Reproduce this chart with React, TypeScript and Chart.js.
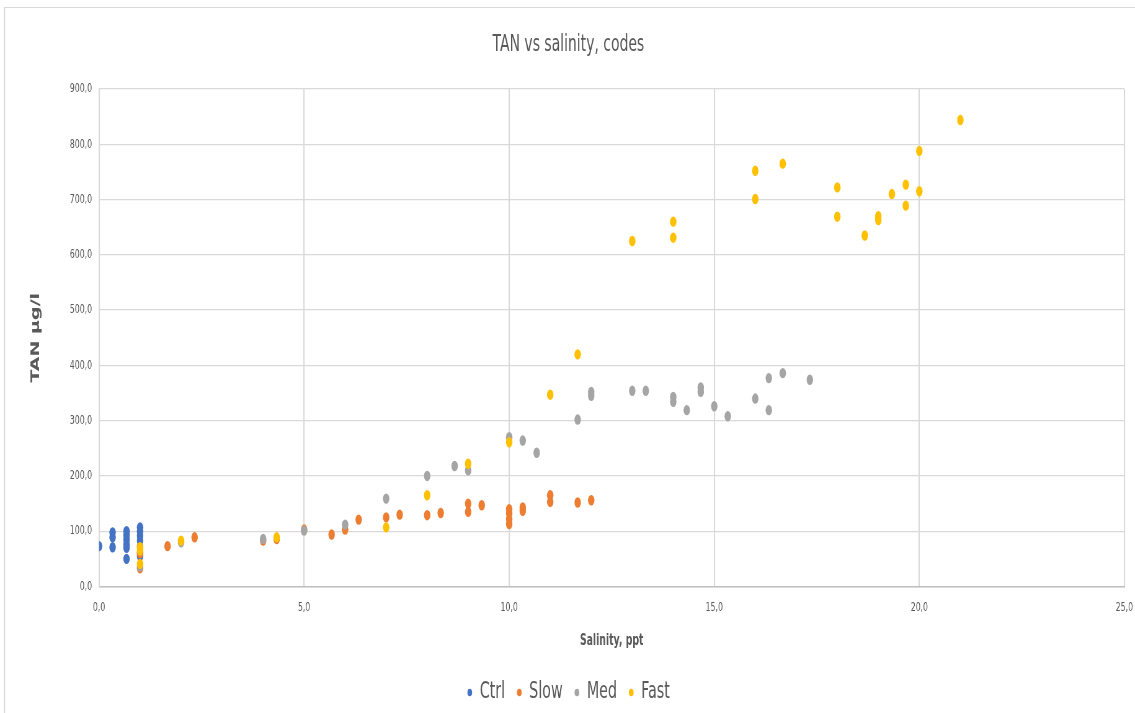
import React, { useEffect, useRef } from 'react';
import { Chart, registerables } from 'chart.js';

Chart.register(...registerables);

// The reference is a horizontally squeezed picture: the chart is drawn on a wider
// canvas and shown narrower, which squeezes text and round markers like the original.
const SQUEEZE = 0.62;
const CANVAS_W = 1843;
const CANVAS_H = 714;
const FONT = "'DejaVu Sans', sans-serif";
const TEXT_COLOR = '#595959';

const chartTitle = 'TAN vs salinity, codes';
const xTitle = 'Salinity, ppt';
const yTitle = 'TAN µg/l';

const seriesNames = ['Ctrl', 'Slow', 'Med', 'Fast'];
const seriesColors = ['#4472C4', '#ED7D31', '#A5A5A5', '#FFC000'];

const ctrlSalinity = [0, 0.33, 0.33, 0.33, 0.67, 0.67, 0.67, 0.67, 0.67, 0.67, 1, 1, 1, 1, 1, 1, 1];
const ctrlTAN = [73, 98, 89, 71, 100, 93, 85, 76, 70, 50, 107, 100, 92, 83, 72, 62, 55];

const slowSalinity = [1, 1, 1.67, 2.33, 4, 4.33, 5, 5.67, 6, 6.33, 7, 7.33, 8, 8.33, 9, 9, 9.33, 10, 10, 10, 10, 10.33, 10.33, 11, 11, 11.67, 12];
const slowTAN = [60, 33, 73, 89, 83, 86, 103, 94, 103, 121, 125, 130, 129, 133, 150, 135, 147, 140, 132, 122, 113, 143, 137, 165, 153, 152, 156];

const medSalinity = [1, 2, 4, 5, 6, 7, 8, 8.67, 9, 10, 10.33, 10.67, 11.67, 12, 12, 13, 13.33, 14, 14, 14.33, 14.67, 14.67, 15, 15.33, 16, 16.33, 16.33, 16.67, 17.33];
const medTAN = [36, 80, 86, 101, 112, 159, 200, 218, 210, 270, 264, 242, 302, 352, 345, 354, 354, 343, 334, 319, 360, 352, 326, 308, 340, 377, 319, 386, 374];

const fastSalinity = [1, 1, 1, 2, 4.33, 7, 8, 9, 10, 11, 11.67, 13, 14, 14, 16, 16, 16.67, 18, 18, 18.67, 19, 19, 19.33, 19.67, 19.67, 20, 20, 21];
const fastTAN = [71, 65, 41, 83, 89, 107, 165, 222, 261, 347, 420, 625, 660, 631, 752, 701, 765, 722, 669, 635, 670, 663, 710, 727, 689, 788, 715, 844];

const xMin = 0;
const xMax = 25;
const xStep = 5;
const yMin = 0;
const yMax = 900;
const yStep = 100;

const formatTick = (v: number) => Number(v).toFixed(1).replace('.', ',');

const toPoints = (xs: number[], ys: number[]) => xs.map((x, i) => ({ x, y: ys[i] }));

const seriesData = [
  toPoints(ctrlSalinity, ctrlTAN),
  toPoints(slowSalinity, slowTAN),
  toPoints(medSalinity, medTAN),
  toPoints(fastSalinity, fastTAN),
];

const framePlugin = {
  id: 'frame',
  beforeDraw(chart: any) {
    const ctx = chart.ctx;
    ctx.save();
    ctx.fillStyle = '#ffffff';
    ctx.fillRect(0, 0, chart.width, chart.height);
    ctx.strokeStyle = '#d9d9d9';
    ctx.lineWidth = 1.2;
    ctx.beginPath();
    ctx.moveTo(4 / SQUEEZE, 7.5);
    ctx.lineTo(chart.width, 7.5);
    ctx.stroke();
    ctx.lineWidth = 1.2 / SQUEEZE;
    ctx.beginPath();
    ctx.moveTo(4.5 / SQUEEZE, 7);
    ctx.lineTo(4.5 / SQUEEZE, chart.height);
    ctx.stroke();
    ctx.restore();
  },
};

export default function App() {
  const ref = useRef<HTMLCanvasElement>(null);

  useEffect(() => {
    if (!ref.current) return;
    const datasets = seriesNames.map((name, i) => ({
      label: name,
      data: seriesData[i],
      backgroundColor: seriesColors[i],
      borderColor: seriesColors[i],
      borderWidth: 0,
      pointRadius: 5.2,
      pointHoverRadius: 5.2,
      order: seriesNames.length - i,
    }));

    const chart = new Chart(ref.current, {
      type: 'scatter',
      data: { datasets },
      plugins: [framePlugin],
      options: {
        animation: false,
        responsive: false,
        devicePixelRatio: 1,
        events: [],
        layout: { padding: { left: 20, right: 30, top: 0, bottom: 0 } },
        scales: {
          x: {
            type: 'linear',
            min: xMin,
            max: xMax,
            ticks: {
              stepSize: xStep,
              padding: 14,
              maxRotation: 0,
              color: TEXT_COLOR,
              font: { family: FONT, size: 12.5 },
              callback: (v: any) => formatTick(v),
            },
            grid: { color: '#d9d9d9', lineWidth: 2.1, drawTicks: false },
            border: { color: '#bfbfbf', width: 1.6 },
            title: {
              display: true,
              text: xTitle,
              color: TEXT_COLOR,
              font: { family: FONT, size: 15, weight: 'bold' },
              padding: { top: 0, bottom: 12 },
            },
            afterFit: (s: any) => {
              s.height = 76;
            },
          },
          y: {
            type: 'linear',
            min: yMin,
            max: yMax,
            ticks: {
              stepSize: yStep,
              padding: 11.3,
              color: TEXT_COLOR,
              font: { family: FONT, size: 12.5 },
              callback: (v: any) => formatTick(v),
            },
            grid: { color: '#d9d9d9', lineWidth: 1.3, drawTicks: false },
            border: { color: '#d9d9d9', width: 2.1 },
            title: {
              display: true,
              text: yTitle,
              color: TEXT_COLOR,
              font: { family: FONT, size: 19, weight: 'bold' },
              padding: { top: 26.6, bottom: 0 },
            },
            afterFit: (s: any) => {
              s.width = 139.7;
            },
          },
        },
        plugins: {
          title: {
            display: true,
            text: chartTitle,
            color: TEXT_COLOR,
            font: { family: FONT, size: 22.5, weight: 'normal' },
            padding: { top: 32, bottom: 30 },
          },
          legend: {
            display: true,
            position: 'bottom',
            labels: {
              usePointStyle: true,
              pointStyle: 'circle',
              boxWidth: 9,
              boxHeight: 5.4,
              padding: 18.5,
              color: TEXT_COLOR,
              font: { family: FONT, size: 23 },
              sort: (a: any, b: any) => a.datasetIndex - b.datasetIndex,
            },
          },
          tooltip: { enabled: false },
        },
      },
    } as any);

    return () => chart.destroy();
  }, []);

  return (
    <div
      style={{
        position: 'fixed',
        left: 0,
        top: 0,
        width: 1135,
        height: 713,
        overflow: 'hidden',
        background: '#ffffff',
      }}
    >
      <canvas
        ref={ref}
        width={CANVAS_W}
        height={CANVAS_H}
        style={{ display: 'block', width: `${CANVAS_W * SQUEEZE}px`, height: `${CANVAS_H}px` }}
      />
    </div>
  );
}
